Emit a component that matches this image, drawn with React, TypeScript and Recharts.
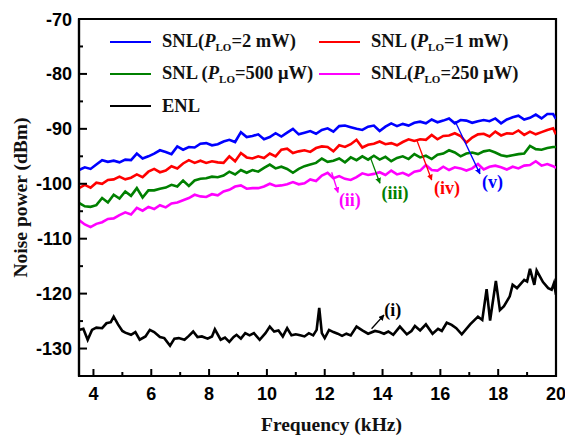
import React from "react";
import { LineChart, Line, XAxis, YAxis, ReferenceArea, ReferenceLine, ReferenceDot } from "recharts";

// sample grid shared by the four SNL traces (kHz)
const snlFreq = [
  3.5, 3.7, 3.9, 4.1, 4.3, 4.5, 4.7, 4.9, 5.1, 5.3, 5.5, 5.7, 5.9, 6.1, 6.3, 6.5, 6.7, 6.9, 7.1, 7.3, 7.5,
  7.7, 7.9, 8.1, 8.3, 8.5, 8.7, 8.9, 9.1, 9.3, 9.5, 9.7, 9.9, 10.1, 10.3, 10.5, 10.7, 10.9, 11.1, 11.3, 11.5,
  11.7, 11.9, 12.1, 12.3, 12.5, 12.7, 12.9, 13.1, 13.3, 13.5, 13.7, 13.9, 14.1, 14.3, 14.5, 14.7, 14.9, 15.1,
  15.3, 15.5, 15.7, 15.9, 16.1, 16.3, 16.5, 16.7, 16.9, 17.1, 17.3, 17.5, 17.7, 17.9, 18.1, 18.3, 18.5, 18.7,
  18.9, 19.1, 19.3, 19.5, 19.7, 19.9, 20.0,
];

const snl2mW = [
  -97.5, -97.0, -97.3, -96.5, -95.7, -96.0, -95.8, -96.1, -95.6, -95.7, -94.5, -95.4, -95.0, -94.5, -93.9, -94.2,
  -94.6, -93.2, -93.8, -93.3, -93.4, -92.7, -92.6, -93.0, -92.8, -92.3, -92.0, -92.4, -90.6, -91.5, -91.3, -91.0,
  -91.9, -91.5, -90.8, -91.4, -90.7, -90.0, -91.0, -90.7, -90.4, -90.9, -90.2, -89.9, -90.5, -89.5, -89.4, -89.7,
  -90.0, -90.2, -89.6, -89.4, -90.4, -89.6, -89.0, -89.5, -89.1, -89.4, -88.9, -88.7, -89.0, -88.3, -88.8, -88.5,
  -88.1, -89.0, -88.4, -88.5, -88.9, -88.6, -88.4, -88.6, -88.1, -89.0, -88.3, -87.9, -87.6, -88.3, -88.0, -87.4,
  -88.1, -87.3, -87.3, -88.2,
];

const snl1mW = [
  -100.8, -100.2, -100.7, -99.8, -100.0, -99.3, -99.2, -98.7, -99.2, -98.9, -98.3, -98.8, -97.8, -97.3, -97.9,
  -97.6, -96.8, -97.2, -96.3, -95.7, -96.2, -95.8, -96.2, -95.9, -96.1, -96.2, -95.0, -95.9, -94.4, -95.2, -95.4,
  -95.0, -95.3, -94.5, -95.0, -93.8, -93.6, -94.4, -94.1, -93.9, -94.2, -93.5, -93.2, -93.3, -94.1, -93.0, -93.3,
  -92.8, -92.0, -93.4, -92.9, -92.7, -92.3, -92.8, -92.6, -93.0, -92.4, -91.9, -92.2, -91.9, -92.0, -91.1, -91.9,
  -91.3, -91.2, -90.8, -91.3, -92.5, -91.6, -91.0, -90.9, -91.4, -90.5, -91.2, -90.8, -90.9, -90.3, -91.1, -90.5,
  -91.0, -90.6, -90.2, -89.9, -91.0,
];

const snl500uW = [
  -103.5, -104.1, -104.2, -103.9, -102.6, -103.4, -102.0, -102.7, -101.4, -102.2, -100.8, -102.5, -101.2, -101.2,
  -100.9, -100.7, -100.2, -100.5, -99.4, -100.4, -99.4, -99.1, -99.0, -98.7, -98.8, -98.5, -97.8, -98.3, -97.5,
  -98.0, -97.5, -97.8, -97.1, -96.5, -97.2, -96.9, -97.3, -98.0, -97.3, -96.8, -96.5, -96.2, -95.4, -96.0, -95.8,
  -95.4, -96.1, -95.2, -95.7, -95.0, -95.6, -94.9, -95.6, -95.1, -95.9, -95.3, -95.0, -95.5, -94.6, -95.2, -94.9,
  -95.5, -94.7, -94.5, -93.9, -94.3, -95.0, -94.5, -94.3, -94.6, -94.1, -93.9, -94.3, -94.8, -95.0, -94.8, -94.6,
  -94.5, -93.1, -93.7, -93.8, -93.5, -93.3, -93.3,
];

const snl250uW = [
  -106.6, -107.4, -107.9, -107.3, -107.0, -106.4, -106.3, -105.7, -105.2, -105.6, -104.4, -104.9, -104.2, -104.6,
  -103.9, -104.3, -103.6, -103.4, -103.0, -102.6, -102.0, -102.3, -102.4, -101.9, -102.1, -101.4, -101.1, -100.5,
  -100.3, -100.9, -100.8, -100.8, -100.5, -100.0, -100.4, -100.3, -100.1, -99.7, -100.1, -99.9, -99.2, -99.5,
  -98.5, -98.0, -99.0, -98.6, -99.1, -99.3, -98.8, -98.1, -98.4, -98.2, -97.9, -98.4, -97.6, -98.3, -98.0, -98.5,
  -97.8, -97.6, -96.6, -97.5, -97.6, -96.9, -97.5, -97.0, -97.2, -97.6, -97.2, -96.4, -97.4, -96.9, -96.7, -97.0,
  -97.4, -96.9, -97.2, -96.7, -96.6, -95.9, -96.7, -96.4, -96.8, -97.1,
];

const enlFreq = [
  3.5, 3.65, 3.8, 3.95, 4.1, 4.3, 4.45, 4.6, 4.7, 4.85, 5.0, 5.1, 5.3, 5.45, 5.6, 5.8, 5.95, 6.1, 6.3, 6.45,
  6.65, 6.8, 6.95, 7.15, 7.3, 7.45, 7.6, 7.75, 7.95, 8.1, 8.2, 8.4, 8.55, 8.7, 8.85, 8.95, 9.1, 9.25, 9.4, 9.55,
  9.75, 9.95, 10.1, 10.25, 10.4, 10.55, 10.7, 10.85, 11.0, 11.15, 11.3, 11.45, 11.6, 11.72, 11.81, 11.9, 12.0,
  12.15, 12.3, 12.45, 12.6, 12.75, 12.9, 13.1, 13.3, 13.5, 13.74, 13.9, 14.05, 14.2, 14.37, 14.6, 14.84, 15.0,
  15.12, 15.3, 15.5, 15.73, 15.92, 16.05, 16.22, 16.39, 16.55, 16.74, 17.03, 17.3, 17.45, 17.6, 17.72, 17.92,
  18.06, 18.2, 18.4, 18.5, 18.65, 18.9, 19.0, 19.1, 19.25, 19.33, 19.55, 19.73, 19.85, 19.93, 20.0,
];

const enlPower = [
  -126.6, -126.4, -128.4, -126.6, -126.2, -126.3, -125.4, -125.2, -124.2, -125.6, -126.8, -127.1, -127.5, -127.0,
  -128.4, -127.8, -126.6, -127.0, -127.9, -128.1, -129.5, -128.2, -128.1, -128.4, -127.7, -126.9, -127.9, -127.8,
  -128.2, -127.8, -126.5, -128.4, -128.0, -128.8, -127.9, -127.5, -128.2, -127.2, -127.6, -127.2, -128.4, -127.2,
  -126.0, -126.9, -126.7, -127.8, -126.3, -127.6, -127.4, -127.6, -127.8, -127.2, -127.6, -126.6, -122.6, -127.2,
  -128.1, -126.6, -127.0, -127.3, -127.7, -127.3, -127.6, -126.0, -126.7, -127.3, -126.8, -127.0, -127.3, -126.9,
  -127.5, -126.0, -127.4, -126.8, -125.9, -126.7, -125.6, -127.3, -126.4, -126.8, -125.3, -125.7, -126.3, -127.4,
  -125.6, -124.2, -124.8, -119.2, -124.9, -117.7, -123.0, -122.3, -120.5, -118.4, -119.0, -117.5, -117.8, -115.5,
  -118.4, -115.8, -117.9, -119.0, -119.3, -118.1, -120.2,
];

const xTicks = [4, 5, 6, 7, 8, 9, 10, 11, 12, 13, 14, 15, 16, 17, 18, 19, 20];
const yTicks = [-135, -130, -125, -120, -115, -110, -105, -100, -95, -90, -85, -80, -75, -70];

const COLORS = { p2mW: "#0000ff", p1mW: "#ff0000", p500: "#008000", p250: "#ff00ff", enl: "#000000" };

// curve annotations: label text, label point, arrow start -> arrow end
const annotations = [
  { text: "(i)", color: COLORS.enl, at: [14.35, -123.0], from: [13.62, -126.4], to: [14.05, -123.9] },
  { text: "(ii)", color: COLORS.p250, at: [12.87, -102.9], from: [12.24, -97.9], to: [12.46, -101.6] },
  { text: "(iii)", color: COLORS.p500, at: [14.43, -101.6], from: [13.57, -95.1], to: [13.91, -99.9] },
  { text: "(iv)", color: COLORS.p1mW, at: [16.23, -100.7], from: [15.18, -92.0], to: [15.7, -99.3] },
  { text: "(v)", color: COLORS.p2mW, at: [17.8, -99.6], from: [16.51, -88.6], to: [17.37, -98.2] },
];

const legendItems = [
  { pre: "SNL(", power: "=2 mW)", color: COLORS.p2mW, col: 0, row: 0 },
  { pre: "SNL (", power: "=1 mW)", color: COLORS.p1mW, col: 1, row: 0 },
  { pre: "SNL (", power: "=500 \u03bcW)", color: COLORS.p500, col: 0, row: 1 },
  { pre: "SNL(", power: "=250 \u03bcW)", color: COLORS.p250, col: 1, row: 1 },
  { pre: "ENL", power: null, color: COLORS.enl, col: 0, row: 2 },
];

const snlData = snlFreq.map((f, i) => ({
  f,
  p2mW: snl2mW[i],
  p1mW: snl1mW[i],
  p500: snl500uW[i],
  p250: snl250uW[i],
}));
const enlData = enlFreq.map((f, i) => ({ f, enl: enlPower[i] }));

const SANS = "'Liberation Sans', Arial, sans-serif";
const SERIF = "'Liberation Serif', 'Times New Roman', serif";
const LINE_W = 2.6;

function XTick({ x, y, payload }: any) {
  const major = payload.value % 2 === 0;
  return (
    <g>
      <line x1={x} x2={x} y1={y} y2={y - (major ? 7 : 4)} stroke="#000" strokeWidth={2} />
      {major && (
        <text x={x} y={y + 24} textAnchor="middle" fontFamily={SANS} fontWeight="bold" fontSize={18} fill="#000">
          {payload.value}
        </text>
      )}
    </g>
  );
}

function YTick({ x, y, payload }: any) {
  const major = payload.value % 10 === 0;
  return (
    <g>
      <line x1={x} x2={x + (major ? 8 : 4)} y1={y} y2={y} stroke="#000" strokeWidth={2} />
      {major && (
        <text x={x - 7} y={y + 6.5} textAnchor="end" fontFamily={SANS} fontWeight="bold" fontSize={18} fill="#000">
          {payload.value}
        </text>
      )}
    </g>
  );
}

function ChartLegend() {
  const colLine = [110, 319];
  const rowY = [42, 74, 106];
  return (
    <div style={{ position: "absolute", left: 0, top: 0, width: 565, height: 437, pointerEvents: "none" }}>
      {legendItems.map((item) => (
        <div
          key={item.pre + item.power}
          style={{
            position: "absolute",
            left: colLine[item.col],
            top: rowY[item.row] - 14,
            height: 28,
            display: "flex",
            alignItems: "center",
            whiteSpace: "nowrap",
            fontFamily: SERIF,
            fontWeight: "bold",
            fontSize: 18.5,
            color: "#111",
          }}
        >
          <span style={{ display: "inline-block", width: 41, height: 2.8, background: item.color, marginRight: 11 }} />
          <span>
            {item.pre}
            {item.power && (
              <>
                <i>P</i>
                <sub style={{ fontSize: 11, verticalAlign: -4 }}>LO</sub>
                {item.power}
              </>
            )}
          </span>
        </div>
      ))}
    </div>
  );
}

export default function App() {
  return (
    <div style={{ position: "absolute", left: 0, top: 0, width: 565, height: 437, background: "#fff" }}>
      <LineChart width={565} height={437} margin={{ top: 19, right: 9, bottom: 0, left: 0 }}>
        <defs>
          {annotations.map((a, i) => (
            <marker key={i} id={`arrow-${i}`} viewBox="0 0 10 10" refX="9" refY="5" markerWidth="4.5" markerHeight="4.5" orient="auto">
              <path d="M0,0 L10,5 L0,10 z" fill={a.color} />
            </marker>
          ))}
        </defs>
        <XAxis
          type="number"
          dataKey="f"
          domain={[3.5, 20]}
          ticks={xTicks}
          interval={0}
          allowDataOverflow
          height={61}
          tickSize={0}
          tickMargin={0}
          tick={<XTick />}
          axisLine={{ stroke: "#000", strokeWidth: 2.2 }}
          label={{
            content: ({ viewBox }: any) => (
              <text x={viewBox.x + viewBox.width / 2 + 14} y={viewBox.y + 55} textAnchor="middle" fontFamily={SERIF} fontWeight="bold" fontSize={19.5} fill="#111">
                Frequency (kHz)
              </text>
            ),
          }}
        />
        <YAxis
          type="number"
          domain={[-135, -70]}
          ticks={yTicks}
          interval={0}
          allowDataOverflow
          width={79}
          tickSize={0}
          tickMargin={0}
          tick={<YTick />}
          axisLine={{ stroke: "#000", strokeWidth: 2.2 }}
          label={{
            content: ({ viewBox }: any) => {
              const cx = viewBox.x + 20;
              const cy = viewBox.y + viewBox.height / 2;
              return (
                <text x={cx} y={cy} transform={`rotate(-90 ${cx} ${cy})`} textAnchor="middle" dominantBaseline="central" fontFamily={SERIF} fontWeight="bold" fontSize={19.5} fill="#111">
                  Noise power (dBm)
                </text>
              );
            },
          }}
        />
        <ReferenceArea x1={3.5} x2={20} y1={-135} y2={-70} fill="none" stroke="#000" strokeWidth={2.2} />
        <Line data={snlData} dataKey="p2mW" stroke={COLORS.p2mW} strokeWidth={LINE_W} dot={false} isAnimationActive={false} />
        <Line data={snlData} dataKey="p1mW" stroke={COLORS.p1mW} strokeWidth={LINE_W} dot={false} isAnimationActive={false} />
        <Line data={snlData} dataKey="p500" stroke={COLORS.p500} strokeWidth={LINE_W} dot={false} isAnimationActive={false} />
        <Line data={snlData} dataKey="p250" stroke={COLORS.p250} strokeWidth={LINE_W} dot={false} isAnimationActive={false} />
        <Line data={enlData} dataKey="enl" stroke={COLORS.enl} strokeWidth={LINE_W} dot={false} isAnimationActive={false} />
        {annotations.map((a, i) => (
          <ReferenceLine
            key={`l${i}`}
            segment={[{ x: a.from[0], y: a.from[1] }, { x: a.to[0], y: a.to[1] }]}
            stroke={a.color}
            strokeWidth={1.3}
            markerEnd={`url(#arrow-${i})`}
          />
        ))}
        {annotations.map((a, i) => (
          <ReferenceDot
            key={`d${i}`}
            x={a.at[0]}
            y={a.at[1]}
            r={0}
            fill="none"
            stroke="none"
            label={{ value: a.text, position: "center", fill: a.color, fontFamily: SERIF, fontWeight: "bold", fontSize: 18 }}
          />
        ))}
      </LineChart>
      <ChartLegend />
    </div>
  );
}
